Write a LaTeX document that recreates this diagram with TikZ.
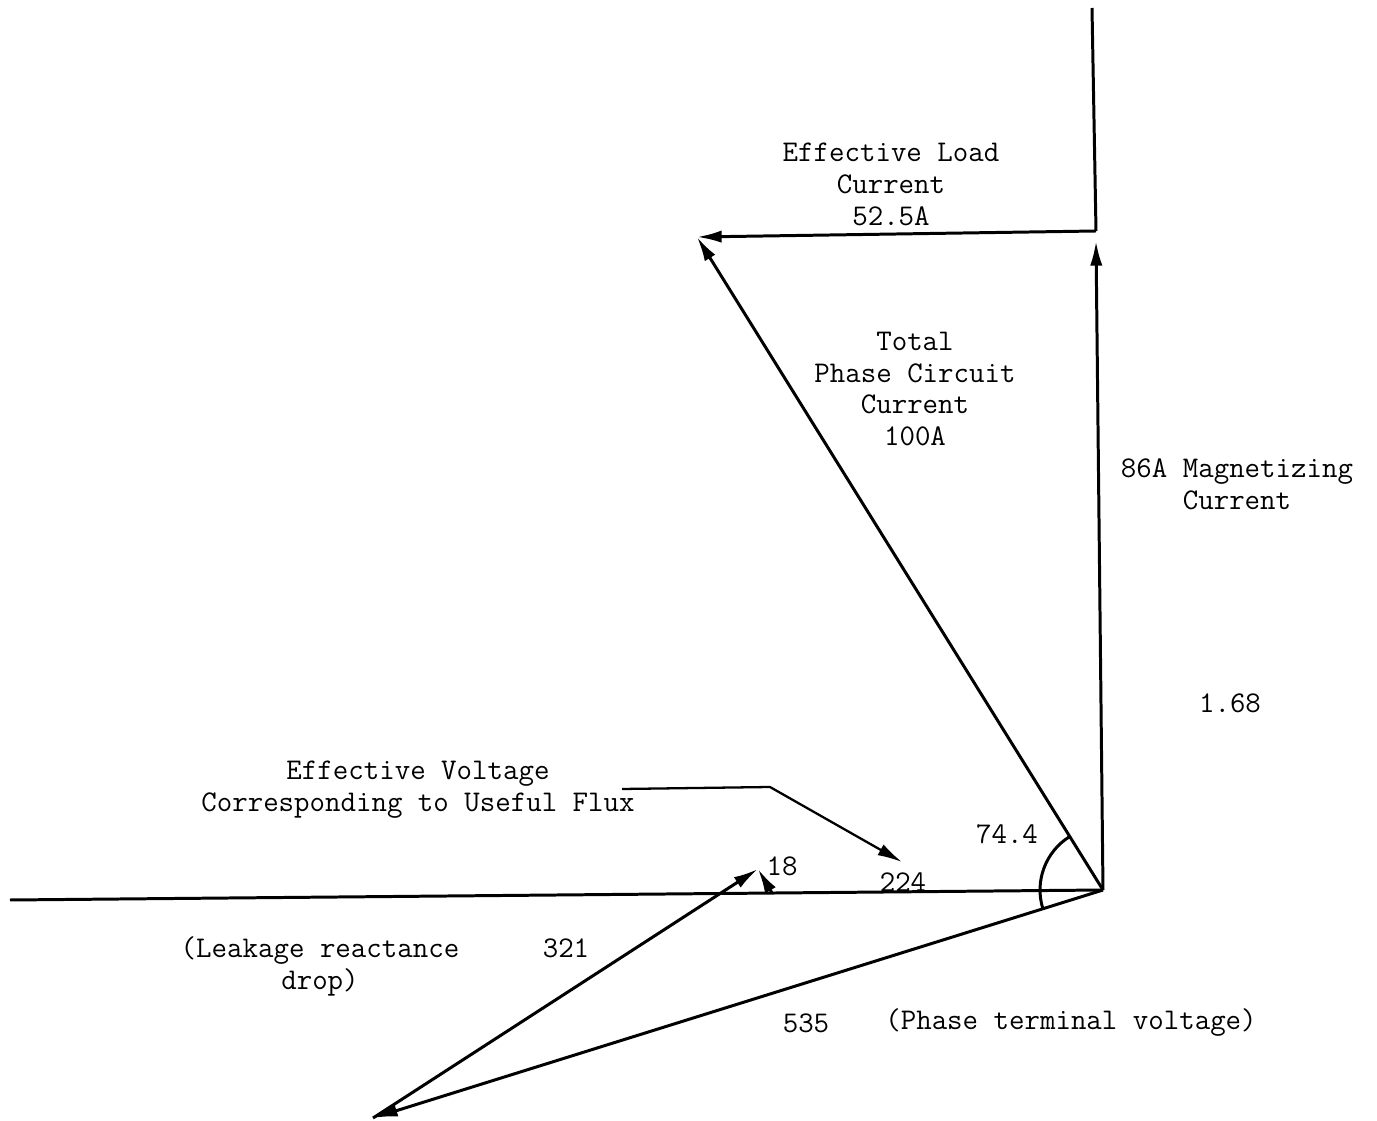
\documentclass[tikz,border=0pt]{standalone}
\usetikzlibrary{arrows.meta}

\begin{document}
\begin{tikzpicture}[x=0.02cm, y=0.02cm, line width=1.7pt,
        lbl/.style = {font=\ttfamily\fontsize{17.1}{18.2}\selectfont, align=center, inner sep=0pt},
        vec/.style = {-{Latex[length=14pt, width=7pt]}}]
        \useasboundingbox (0,0) rectangle (1377,-1121);
        % phasor points
        \coordinate (O) at (1103,-890);
        \coordinate (top) at (1092,-8);
        \coordinate (mag) at (1096,-231);
        \coordinate (magtip) at (1096,-241);
        \coordinate (tot) at (697,-237);
        \coordinate (left) at (10,-900);
        \coordinate (tip) at (373,-1118);
        \coordinate (flux) at (758,-869);
        \coordinate (base) at (772,-893);
        \coordinate (lead) at (622,-789);
        \coordinate (bend) at (770,-787);
        \coordinate (leadtip) at (902,-862);
        % vectors
        \draw (mag) -- (top);
        \draw[vec] (O) -- (magtip);
        \draw[vec] (mag) -- (tot);
        \draw[vec] (O) -- (tot);
        \draw (left) -- (O);
        \draw[vec] (O) -- (tip);
        \draw[vec] (tip) -- (flux);
        \draw[vec] (base) -- (flux);
        \draw[vec, line width=1.3pt] (lead) -- (bend) -- (leadtip);
        \draw (O) ++(121.9:1.26cm) arc[start angle=121.9, end angle=197.3, radius=1.26cm];
        % labels
        \node[lbl] (load) at (891,-184) {Effective Load\\Current\\52.5A};
        \node[lbl] (total) at (915,-389) {Total\\Phase Circuit\\Current\\100A};
        \node[lbl] (magn) at (1237,-484) {86A Magnetizing\\Current};
        \node[lbl] (ratio) at (1230,-703) {1.68};
        \node[lbl] (effv) at (418,-790) {Effective Voltage\\Corresponding to Useful Flux};
        \node[lbl] (angle) at (1007,-834) {74.4};
        \node[lbl] (drop) at (782,-866) {18};
        \node[lbl] (useful) at (903,-882) {224};
        \node[lbl] (leak) at (320,-966) {(Leakage reactance\\drop)};
        \node[lbl] (react) at (566,-948) {321};
        \node[lbl] (term) at (806,-1023) {535};
        \node[lbl] (termtxt) at (1071,-1023) {(Phase terminal voltage)};
\end{tikzpicture}
\end{document}
